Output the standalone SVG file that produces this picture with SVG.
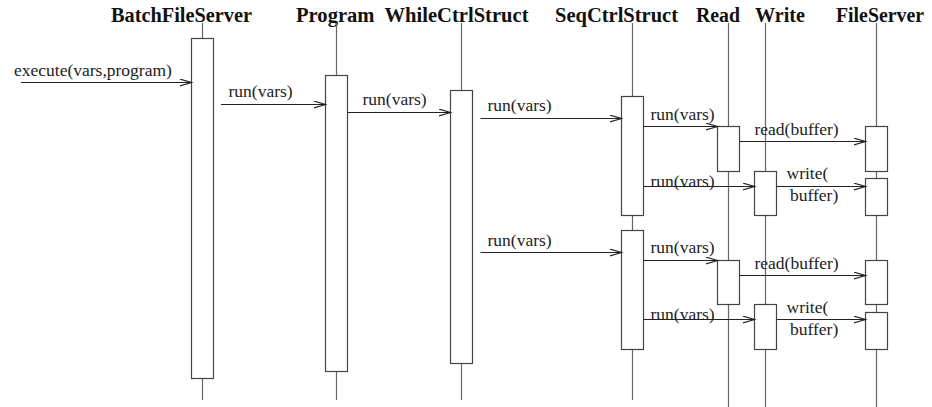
<svg xmlns="http://www.w3.org/2000/svg" width="932" height="407" viewBox="0 0 932 407">
<style>
.title{font-family:"Liberation Serif","Times New Roman",serif;font-weight:bold;font-size:20px;fill:#111}
.lbl{font-family:"Liberation Serif","Times New Roman",serif;font-size:17.5px;fill:#222}
.life{stroke:#666;stroke-width:1.2;fill:none}
.act{stroke:#444;stroke-width:1.2;fill:#fff}
.msg{stroke:#222;stroke-width:1.2;fill:none;marker-end:url(#open)}
</style>
<defs>
<marker id="open" markerUnits="userSpaceOnUse" markerWidth="14" markerHeight="9" refX="12" refY="4" orient="auto">
<path d="M0,0.5 L12,4 L0,7.5" fill="none" stroke="#222" stroke-width="1.2"/>
</marker>
</defs>
<rect width="932" height="407" fill="#fff"/>
<g id="BatchFileServer">
<text class="title" x="111" y="22" textLength="141" lengthAdjust="spacingAndGlyphs">BatchFileServer</text>
<line class="life" x1="202.5" y1="23" x2="202.5" y2="400"/>
<rect class="act" x="191.5" y="38.5" width="22" height="340"/>
</g>
<g id="Program">
<text class="title" x="296" y="22" textLength="78.5" lengthAdjust="spacingAndGlyphs">Program</text>
<line class="life" x1="336.5" y1="23" x2="336.5" y2="400"/>
<rect class="act" x="325.5" y="75.5" width="22" height="296"/>
</g>
<g id="WhileCtrlStruct">
<text class="title" x="384.5" y="22" textLength="144" lengthAdjust="spacingAndGlyphs">WhileCtrlStruct</text>
<line class="life" x1="461.5" y1="23" x2="461.5" y2="400"/>
<rect class="act" x="450.5" y="90.5" width="22" height="273"/>
</g>
<g id="SeqCtrlStruct">
<text class="title" x="555" y="22" textLength="123" lengthAdjust="spacingAndGlyphs">SeqCtrlStruct</text>
<line class="life" x1="632.5" y1="23" x2="632.5" y2="400"/>
<rect class="act" x="621.5" y="96.5" width="22" height="119"/>
<rect class="act" x="621.5" y="230.5" width="22" height="119"/>
</g>
<g id="Read">
<text class="title" x="696" y="22" textLength="44" lengthAdjust="spacingAndGlyphs">Read</text>
<line class="life" x1="728.5" y1="23" x2="728.5" y2="407"/>
<rect class="act" x="717.5" y="126.5" width="22" height="45"/>
<rect class="act" x="717.5" y="260.5" width="22" height="44"/>
</g>
<g id="Write">
<text class="title" x="755" y="22" textLength="50" lengthAdjust="spacingAndGlyphs">Write</text>
<line class="life" x1="765.5" y1="23" x2="765.5" y2="407"/>
<rect class="act" x="754.5" y="171.5" width="22" height="44"/>
<rect class="act" x="754.5" y="304.5" width="22" height="45"/>
</g>
<g id="FileServer">
<text class="title" x="836" y="22" textLength="88" lengthAdjust="spacingAndGlyphs">FileServer</text>
<line class="life" x1="876.5" y1="23" x2="876.5" y2="407"/>
<rect class="act" x="865.5" y="126.5" width="22" height="45"/>
<rect class="act" x="865.5" y="178.5" width="22" height="37"/>
<rect class="act" x="865.5" y="260.5" width="22" height="44"/>
<rect class="act" x="865.5" y="312.5" width="22" height="37"/>
</g>
<g id="connectors">
<line class="msg" x1="21" y1="82.5" x2="191.5" y2="82.5"/>
<text class="lbl" x="14" y="75.5">execute(vars,program)</text>
<line class="msg" x1="221" y1="104.5" x2="325.5" y2="104.5"/>
<text class="lbl" x="228.5" y="97">run(vars)</text>
<line class="msg" x1="347.5" y1="112.5" x2="450.5" y2="112.5"/>
<text class="lbl" x="362.5" y="104.5">run(vars)</text>
<line class="msg" x1="480.5" y1="118.5" x2="621.5" y2="118.5"/>
<text class="lbl" x="487.5" y="111">run(vars)</text>
<line class="msg" x1="643.5" y1="126.5" x2="717.5" y2="126.5"/>
<text class="lbl" x="650.5" y="119.5">run(vars)</text>
<line class="msg" x1="739.5" y1="141.5" x2="865.5" y2="141.5"/>
<text class="lbl" x="754.5" y="134.5">read(buffer)</text>
<line class="msg" x1="643.5" y1="186.5" x2="754.5" y2="186.5"/>
<text class="lbl" x="650.5" y="187">run(vars)</text>
<line class="msg" x1="776.5" y1="186.5" x2="865.5" y2="186.5"/>
<text class="lbl" x="786.5" y="179">write(</text>
<text class="lbl" x="790" y="201">buffer)</text>
<line class="msg" x1="480.5" y1="252.5" x2="621.5" y2="252.5"/>
<text class="lbl" x="487.5" y="245.5">run(vars)</text>
<line class="msg" x1="643.5" y1="260.5" x2="717.5" y2="260.5"/>
<text class="lbl" x="650.5" y="253">run(vars)</text>
<line class="msg" x1="739.5" y1="275.5" x2="865.5" y2="275.5"/>
<text class="lbl" x="754.5" y="268.5">read(buffer)</text>
<line class="msg" x1="643.5" y1="319.5" x2="754.5" y2="319.5"/>
<text class="lbl" x="650.5" y="320">run(vars)</text>
<line class="msg" x1="776.5" y1="319.5" x2="865.5" y2="319.5"/>
<text class="lbl" x="786.5" y="312.5">write(</text>
<text class="lbl" x="790" y="334.5">buffer)</text>
</g>
</svg>
